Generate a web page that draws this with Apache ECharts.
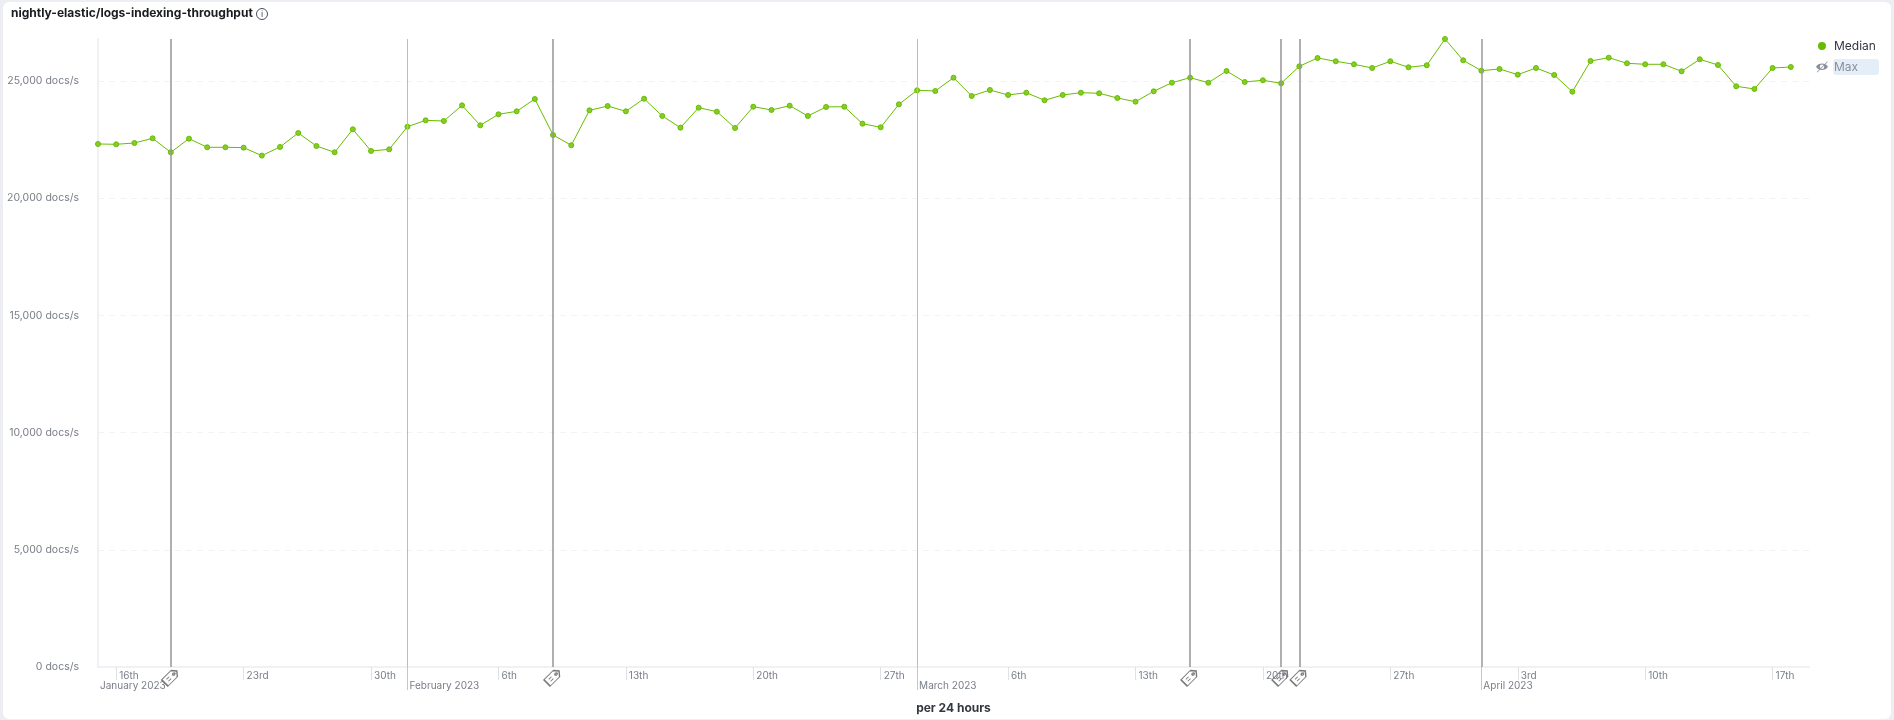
<!DOCTYPE html>
<html>
<head>
<meta charset="utf-8">
<title>nightly-elastic/logs-indexing-throughput</title>
<script src="https://cdn.jsdelivr.net/npm/echarts@6/dist/echarts.min.js"></script>
<style>
    html, body { margin: 0; width: 1894px; height: 720px; background: #eceef3; overflow: hidden; }
    #card { position: absolute; left: 3px; top: 2px; width: 1888px; height: 717px; background: #fff; border-radius: 6px; }
    #chart { position: absolute; left: 0; top: 0; width: 1894px; height: 720px; }
</style>
</head>
<body>
<div id="card"></div>
<div id="chart"></div>
<script>
const firstDay = '2023-01-15'
const dayCount = 95

// docs/s, one point per day
const medianValues = [
    22312, 22298, 22354, 22553, 21956, 22540, 22170, 22170, 22156, 21815,
    22184, 22781, 22226, 21956, 22938, 22013, 22084, 23048, 23320, 23292,
    23960, 23107, 23576, 23704, 24230, 22696, 22255, 23747, 23931, 23704,
    24244, 23506, 23007, 23860, 23690, 22994, 23903, 23762, 23946, 23506,
    23890, 23903, 23178, 23023, 24004, 24602, 24572, 25140, 24359, 24615,
    24402, 24500, 24175, 24402, 24500, 24474, 24274, 24116, 24559, 24926,
    25140, 24926, 25425, 24956, 25029, 24900, 25626, 25980, 25839, 25711,
    25553, 25839, 25583, 25669, 26790, 25881, 25438, 25511, 25268, 25553,
    25255, 24543, 25852, 25994, 25754, 25711, 25711, 25412, 25925, 25681,
    24773, 24658, 25553, 25596,
]

const weekTicks = [
    '2023-01-16', '2023-01-23', '2023-01-30', '2023-02-06', '2023-02-13',
    '2023-02-20', '2023-02-27', '2023-03-06', '2023-03-13', '2023-03-20',
    '2023-03-27', '2023-04-03', '2023-04-10', '2023-04-17',
]
const weekLabels = ['16th', '23rd', '30th', '6th', '13th', '20th', '27th', '6th', '13th', '20th', '27th', '3rd', '10th', '17th']

const monthTicks = ['2023-02-01', '2023-03-01', '2023-04-01']
const monthLabels = ['January 2023', 'February 2023', 'March 2023', 'April 2023']

// annotations with a tag under the axis
const taggedDays = ['2023-01-19', '2023-02-09', '2023-03-16', '2023-03-21', '2023-03-22']
// annotations without one
const plainDays = ['2023-02-01', '2023-03-01', '2023-04-01']

const green = '#68bc00'
const grey = '#787d87'

const tagPath = 'path://M5 0 L10 4 V18 H0 V4 Z M5 3.2 A1.3 1.3 0 1 0 5.01 3.2 Z M3.5 10 V14 M6.5 10 V14'
const eyeOffPath = 'path://M1 8 C4 3 12 3 15 8 C12 13 4 13 1 8 Z M8 5.4 A2.6 2.6 0 1 0 8.01 5.4 Z M2 14 L14 2 L14.6 2.6 L2.6 14.6 Z'
// 8px dot in a 12px box, the two specks at the corners only hold the box size
const dotPath = 'path://M0 0 L0.01 0 Z M12 12 L12.01 12 Z M6 2 A4 4 0 1 1 5.99 2 Z'

const formatDay = function (d) {
    let m = String(d.getUTCMonth() + 1).padStart(2, '0')
    let day = String(d.getUTCDate()).padStart(2, '0')
    return `${d.getUTCFullYear()}-${m}-${day}`
}

const buildDays = function () {
    let days = []
    let start = Date.parse(firstDay)
    for (let i = 0; i < dayCount; i++) {
        days.push(formatDay(new Date(start + i * 86400000)))
    }
    return days
}

const days = buildDays()

const annotationLines = function () {
    let lines = []
    for (let d of taggedDays) {
        lines.push({ xAxis: d, lineStyle: { color: '#969696', width: 1.5, type: 'solid' } })
    }
    for (let d of plainDays) {
        let s = d === '2023-04-01' ? { color: '#9a9a9a', width: 1.5, type: 'solid' } : { color: '#bcbcbc', width: 1, type: 'solid' }
        lines.push({ xAxis: d, lineStyle: s })
    }
    return lines
}

const annotationTags = function () {
    return taggedDays.map(d => ({ coord: [d, 0] }))
}

const weekLabel = function (value) {
    return weekLabels[weekTicks.indexOf(value)]
}

const monthLabel = function (value) {
    let i = monthTicks.indexOf(value)
    return monthLabels[i + 1] || monthLabels[0]
}

const option = {
    animation: false,
    textStyle: { fontFamily: 'Inter' },
    title: {
        text: 'nightly-elastic/logs-indexing-throughput',
        left: 11,
        top: 7,
        padding: 0,
        textStyle: { fontFamily: 'Inter', fontSize: 12, fontWeight: 'bold', color: '#1a1c21' },
    },
    graphic: [
        // info icon next to the title
        { type: 'circle', shape: { cx: 262, cy: 14, r: 5.5 }, style: { fill: 'none', stroke: '#4a4f5c', lineWidth: 1 } },
        { type: 'text', x: 262, y: 14, style: { text: 'i', fill: '#4a4f5c', fontSize: 9, fontFamily: 'Inter', align: 'center', verticalAlign: 'middle' } },
    ],
    legend: {
        orient: 'vertical',
        left: 1816,
        top: 40,
        padding: 0,
        itemWidth: 12,
        itemHeight: 12,
        itemGap: 7,
        inactiveColor: '#8a8f9a',
        selected: { Median: true, Max: false },
        data: [
            {
                name: 'Median',
                icon: dotPath,
                itemStyle: { color: green, borderWidth: 0 },
                textStyle: { color: '#343741', fontSize: 12, padding: [0, 0, 0, 1] },
            },
            {
                name: 'Max',
                icon: eyeOffPath,
                textStyle: { color: '#8d93a0', fontSize: 12, backgroundColor: '#e3eef8', width: 45, height: 16, lineHeight: 16, padding: [0, 0, 0, 1], borderRadius: 3 },
            },
        ],
    },
    grid: { left: 98, top: 39, right: 85, bottom: 53, outerBoundsMode: 'none' },
    xAxis: [
        {
            type: 'category',
            data: days,
            boundaryGap: false,
            name: 'per 24 hours',
            nameLocation: 'middle',
            nameGap: 35,
            nameTextStyle: { fontFamily: 'Inter', fontSize: 12, fontWeight: 'bold', color: '#343741' },
            axisLine: { lineStyle: { color: '#f0f1f5', width: 2 } },
            axisTick: {
                length: 13,
                lineStyle: { color: '#dfe1e6' },
                interval: (i, value) => weekTicks.includes(value),
            },
            axisLabel: {
                margin: 4,
                align: 'left',
                padding: [0, 0, 0, 3],
                color: grey,
                fontSize: 10,
                interval: (i, value) => weekTicks.includes(value),
                formatter: weekLabel,
            },
        },
        {
            type: 'category',
            data: days,
            boundaryGap: false,
            position: 'bottom',
            axisLine: { show: false },
            axisTick: {
                length: 23,
                lineStyle: { color: '#c4c6cc' },
                interval: (i, value) => monthTicks.includes(value),
            },
            axisLabel: {
                margin: 14,
                align: 'left',
                padding: [0, 0, 0, 2],
                color: grey,
                fontSize: 10,
                showMinLabel: true,
                interval: (i, value) => i === 0 || monthTicks.includes(value),
                formatter: monthLabel,
            },
        },
    ],
    yAxis: {
        type: 'value',
        min: 0,
        max: 26790,
        interval: 5000,
        axisLine: { show: true, lineStyle: { color: '#f0f1f5', width: 2 } },
        axisTick: { show: false },
        axisLabel: {
            margin: 19,
            color: grey,
            fontSize: 10.5,
            padding: [2, 0, 0, 0],
            showMaxLabel: false,
            formatter: value => `${value.toLocaleString('en-US')} docs/s`,
        },
        splitLine: {
            showMinLine: false,
            showMaxLine: false,
            lineStyle: { color: '#f3f3f5', type: [6, 5] },
        },
    },
    series: [
        {
            name: 'Median',
            type: 'line',
            data: medianValues,
            color: green,
            symbol: 'circle',
            symbolSize: 5,
            showAllSymbol: true,
            lineStyle: { color: green, width: 1 },
            itemStyle: { color: '#86cc26', borderColor: green, borderWidth: 1 },
            markLine: {
                silent: true,
                symbol: 'none',
                label: { show: false },
                data: annotationLines(),
            },
            markPoint: {
                silent: true,
                symbol: tagPath,
                symbolSize: [9, 17],
                symbolRotate: -45,
                symbolOffset: [0, 10],
                label: { show: false },
                itemStyle: { color: 'rgba(255,255,255,0)', borderColor: '#787878', borderWidth: 1.2 },
                data: annotationTags(),
            },
        },
        {
            name: 'Max',
            type: 'line',
            data: [],
            color: grey,
        },
    ],
}

const main = function () {
    let chart = echarts.init(document.querySelector('#chart'))
    chart.setOption(option)
}

main()
</script>
</body>
</html>
